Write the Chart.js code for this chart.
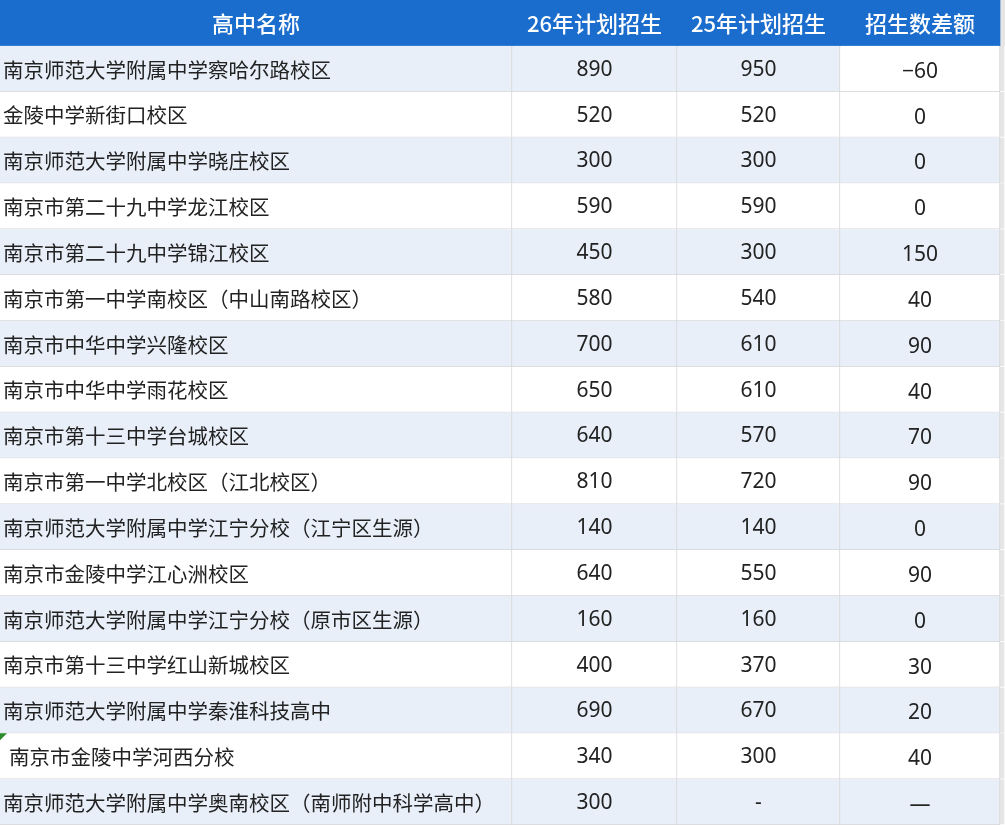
<!DOCTYPE html>
<html><head><meta charset="utf-8">
<script src="https://cdn.jsdelivr.net/npm/chart.js@4"></script>
<style>html,body{margin:0;padding:0;background:#fff}#w{width:1005px;height:825px}</style>
</head><body><div id="w"><canvas id="c"></canvas></div>
<script>
const headers = ["高中名称","26年计划招生","25年计划招生","招生数差额"];
const schools = ["南京师范大学附属中学察哈尔路校区","金陵中学新街口校区","南京师范大学附属中学晓庄校区","南京市第二十九中学龙江校区","南京市第二十九中学锦江校区","南京市第一中学南校区（中山南路校区）","南京市中华中学兴隆校区","南京市中华中学雨花校区","南京市第十三中学台城校区","南京市第一中学北校区（江北校区）","南京师范大学附属中学江宁分校（江宁区生源）","南京市金陵中学江心洲校区","南京师范大学附属中学江宁分校（原市区生源）","南京市第十三中学红山新城校区","南京师范大学附属中学秦淮科技高中","南京市金陵中学河西分校","南京师范大学附属中学奥南校区（南师附中科学高中）"];
const plan26 = ["890","520","300","590","450","580","700","650","640","810","140","640","160","400","690","340","300"];
const plan25 = ["950","520","300","590","300","540","610","610","570","720","140","550","160","370","670","300","-"];
const diff = ["−60","0","0","0","150","40","90","40","70","90","0","90","0","30","20","40","—"];

const colEdges = [0,512,677,840,1000,1005];
const rows = ["header"].concat(schools);
const blue="#1a6dcc", light="#e8eff9";
function bg(ci){return ctx=>{const r=ctx.dataIndex; if(ci===4) return "#e6e6e6"; if(r===0) return blue; if(r===1&&ci===3) return "#fff"; return (r%2===1)?light:"#fff";};}
const datasets=[];
for(let ci=0;ci<5;ci++){
  datasets.push({data:rows.map(()=>[colEdges[ci],colEdges[ci+1]]),backgroundColor:bg(ci),
    borderColor:ctx=>ctx.dataIndex===0||ci===4?"rgba(0,0,0,0)":"#d6d6d6",borderWidth:ctx=>ctx.dataIndex===0?0:{top:0,left:0,right:1,bottom:1},
    borderSkipped:false,barPercentage:1,categoryPercentage:1,grouped:false});
}
const textPlugin={id:"txt",afterDatasetsDraw(chart){
  const c=chart.ctx,x=chart.scales.x,y=chart.scales.y;
  c.save();c.textBaseline="middle";
  const cx=i=>(x.getPixelForValue(colEdges[i])+x.getPixelForValue(colEdges[i+1]))/2;
  rows.forEach((r,ri)=>{
    const py=y.getPixelForValue(ri)+1;
    if(ri===0){
      c.fillStyle="#fff";c.font="500 22px 'Noto Sans CJK SC'";c.textAlign="center";
      headers.forEach((h,i)=>c.fillText(h,cx(i),py));return;
    }
    const k=ri-1;
    c.fillStyle="#222";c.font="20.5px 'Noto Sans CJK SC'";c.textAlign="left";
    c.fillText(schools[k],x.getPixelForValue(k===15?9:3),py);
    c.font="21px 'Noto Sans', sans-serif";c.textAlign="center";
    c.fillText(plan26[k],cx(1),py);c.fillText(plan25[k],cx(2),py);c.fillText(diff[k],cx(3),py+2);
    if(k===15){const t=y.getPixelForValue(ri)-22.9;c.fillStyle="#2a8a2a";c.beginPath();c.moveTo(0,t);c.lineTo(7,t);c.lineTo(0,t+7);c.fill();}
  });
  c.restore();}};
new Chart(document.getElementById("c"),{type:"bar",data:{labels:rows,datasets},
  options:{indexAxis:"y",responsive:true,maintainAspectRatio:false,animation:false,
    layout:{padding:0},plugins:{legend:{display:false},tooltip:{enabled:false}},
    scales:{x:{display:false,min:0,max:1005},y:{display:false}}},plugins:[textPlugin]});
</script></body></html>
